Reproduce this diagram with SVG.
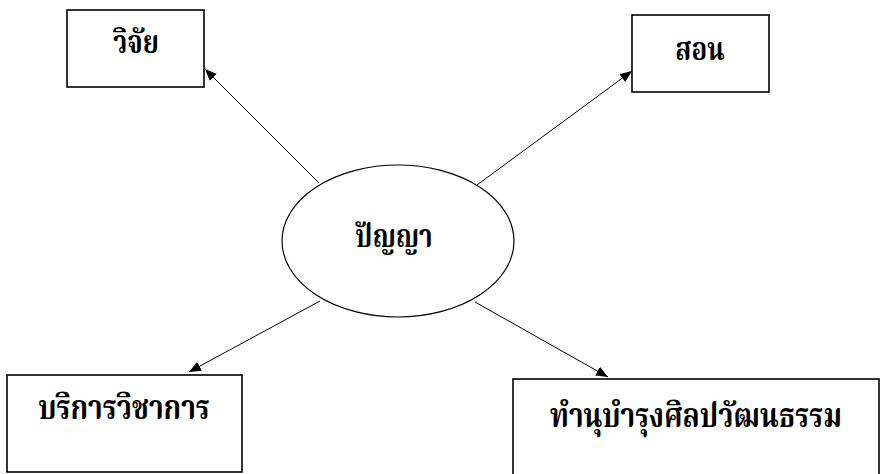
<svg xmlns="http://www.w3.org/2000/svg" width="880" height="474" viewBox="0 0 880 474">
<defs>
<marker id="ah" viewBox="0 0 12 10" refX="12" refY="5" markerWidth="12" markerHeight="10" markerUnits="userSpaceOnUse" orient="auto">
<path d="M0,0 L12,5 L0,10 z" fill="#000"/>
</marker>
</defs>
<style>
.box{fill:#fff;stroke:#000;stroke-width:1.6}
.lbl{font-family:"Noto Serif Thai","Loma","Garuda","Noto Sans Thai","Liberation Serif",serif;font-weight:bold;fill:#000;text-anchor:middle}
.con{stroke:#000;stroke-width:1;fill:none;marker-end:url(#ah)}
</style>
<rect width="880" height="474" fill="#fff"/>
<g id="connectors">
<line class="con" x1="319" y1="183" x2="205" y2="69"/>
<line class="con" x1="477" y1="185" x2="632" y2="71"/>
<line class="con" x1="320" y1="301" x2="189" y2="372"/>
<line class="con" x1="475" y1="302" x2="608" y2="377"/>
</g>
<g id="node-center">
<ellipse cx="398" cy="241" rx="116" ry="76" fill="#fff" stroke="#000" stroke-width="1.2"/>
<text class="lbl" transform="translate(394,247) scale(1,1.22)" font-size="26">ปัญญา</text>
</g>
<g id="node-research">
<rect class="box" x="67" y="10" width="137" height="77"/>
<text class="lbl" transform="translate(136,53) scale(1,1.22)" font-size="26">วิจัย</text>
</g>
<g id="node-teach">
<rect class="box" x="632" y="15" width="137" height="77"/>
<text class="lbl" transform="translate(700,60) scale(1,1.22)" font-size="26">สอน</text>
</g>
<g id="node-service">
<rect class="box" x="7" y="375" width="235" height="97"/>
<text class="lbl" transform="translate(124,419) scale(1,1.22)" font-size="28">บริการวิชาการ</text>
</g>
<g id="node-culture">
<rect class="box" x="513" y="379" width="366" height="100"/>
<text class="lbl" transform="translate(696,427) scale(1,1.22)" font-size="28">ทำนุบำรุงศิลปวัฒนธรรม</text>
</g>
</svg>
